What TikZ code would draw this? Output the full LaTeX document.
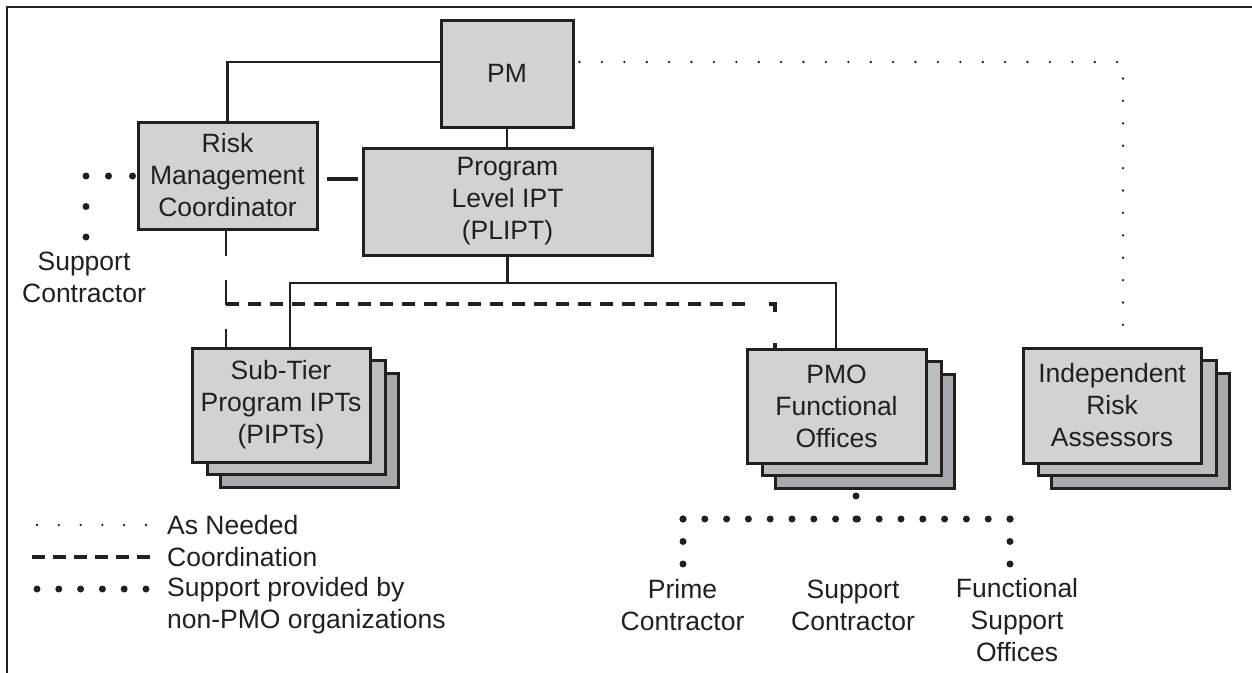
\documentclass[tikz,border=0pt]{standalone}
\usepackage{fontspec}
\setmainfont{Liberation Sans}
\usetikzlibrary{shadows,calc}
\definecolor{ink}{HTML}{231F20}
\definecolor{gA}{HTML}{D1D2D4}
\definecolor{gB}{HTML}{BCBDC0}
\definecolor{gC}{HTML}{A7A9AC}
\tikzset{
  txt/.style={text=ink, font=\fontsize{26.5}{32}\selectfont, inner sep=0pt, align=center},
  box/.style={txt, draw=ink, line width=3pt, fill=gA},
  stackbox/.style={box,
    general shadow={shadow xshift=28pt, shadow yshift=-25pt, fill=gC, draw=ink, line width=3pt},
    general shadow={shadow xshift=15pt, shadow yshift=-12pt, fill=gB, draw=ink, line width=3pt}},
  conn/.style={draw=ink, line width=2.2pt},
  bar/.style={draw=ink, line width=4.5pt},
  bigdash/.style={draw=ink, line width=2.2pt, dash pattern=on 25pt off 24pt},
  coordline/.style={draw=ink, line width=4.2pt, dash pattern=on 13pt off 9pt},
  asneeded/.style={draw=ink, line width=2.6pt, line cap=round, dash pattern=on 0pt off 22.4pt},
  bigdot/.style={draw=ink, line width=7pt, line cap=round, dash pattern=on 0pt off #1},
  bigdot/.default=21.8pt,
  legtxt/.style={txt, anchor=west, align=left},
}
\begin{document}
\begin{tikzpicture}[x=1pt,y=-1pt]
\useasboundingbox (0,0) rectangle (1252,672);
\fill[white] (0,0) rectangle (1252,672);
\draw[ink, line width=2.8pt] (7,7) rectangle (1275,695);

% boxes
\node[box, minimum width=132pt, minimum height=107pt] (pm) at (507,73.5) {PM};
\node[box, minimum width=179pt, minimum height=107pt] (rmc) at (227.5,175.5) {Risk\\Management\\Coordinator};
\node[box, minimum width=289pt, minimum height=107pt] (plipt) at (507.5,201.5) {Program\\Level IPT\\(PLIPT)};
\node[stackbox, minimum width=178pt, minimum height=114pt] (sub) at (281,405) {Sub-Tier\\Program IPTs\\(PIPTs)};
\node[stackbox, minimum width=179pt, minimum height=114pt] (pmo) at (836.5,406) {PMO\\Functional\\Offices};
\node[stackbox, minimum width=178pt, minimum height=115pt] (ira) at (1112,405.5) {Independent\\Risk\\Assessors};

% solid connectors
\draw[conn] (rmc.north) |- ([yshift=11.5pt]pm.west);
\draw[conn] (pm.south) -- (pm.south |- plipt.north);
\coordinate (subtap) at (290,283);
\coordinate (pmotap) at (836,283);
\draw[conn] (plipt.south) -- (plipt.south |- subtap);
\draw[conn] (sub.north -| subtap) -- (subtap) -- (pmotap) -- (pmo.north -| pmotap);
\draw[bar] ([xshift=8pt,yshift=-3.5pt]rmc.east) -- ([xshift=39pt,yshift=-3.5pt]rmc.east);

% coordination
\draw[bigdash] ([xshift=-1.5pt]rmc.south) -- ([xshift=-1.5pt]rmc.south |- sub.north);
\coordinate (c1) at (226,304);
\coordinate (c2) at (775,304);
\coordinate (c3) at (753,304);
\draw[coordline] (c1) -- (c3);
\draw[coordline, dash pattern=on 14pt off 31pt on 12pt] ([xshift=-6pt]c2) -- (c2) -- (c2 |- pmo.north);

% as needed
\coordinate (an) at (1123,62);
\draw[asneeded] ([xshift=5pt,yshift=11.5pt]pm.east) -- (an) -- (an |- ira.north);

% support contractor (left)
\coordinate (sc) at (86,176);
\coordinate (scb) at (86,237.5);
\draw[bigdot=24pt] ([xshift=-4pt,yshift=-0.5pt]rmc.west) -- (sc);
\draw[bigdot=30.5pt] (sc) -- (scb);
\node[txt] (sclab) at (84,277.5) {Support\\Contractor};

% PMO support
\coordinate (pd) at (856,496);
\coordinate (pr) at (856,519.5);
\coordinate (r1) at (683,519);
\coordinate (r2) at (1010.5,519);
\coordinate (r1b) at (683,564.5);
\coordinate (r2b) at (1010,564.5);
\draw[bigdot=23pt] (pd) -- (pr);
\draw[bigdot] (r1) -- (r2);
\draw[bigdot=22.5pt] (r1) -- (r1b);
\draw[bigdot=22.5pt] (r2 -| r2b) -- (r2b);
\node[txt] (prime) at (682.5,605) {Prime\\Contractor};
\node[txt] (supc) at (853,605) {Support\\Contractor};
\node[txt] (fso) at (1017,620.5) {Functional\\Support\\Offices};

% legend
\coordinate (l1a) at (37,525);  \coordinate (l1b) at (146.5,525);
\coordinate (l2a) at (32,557);  \coordinate (l2b) at (150,557);
\coordinate (l3a) at (37,589);  \coordinate (l3b) at (146.5,589);
\draw[asneeded, dash pattern=on 0pt off 21.8pt] (l1a) -- (l1b);
\draw[coordline, dash pattern=on 13pt off 8pt] (l2a) -- (l2b);
\draw[bigdot] (l3a) -- (l3b);
\node[legtxt] (leg1) at (167,525) {As Needed};
\node[legtxt] (leg2) at (167,557) {Coordination};
\node[legtxt] (leg3) at (167,606) {Support provided by\\non-PMO organizations};
\end{tikzpicture}
\end{document}
